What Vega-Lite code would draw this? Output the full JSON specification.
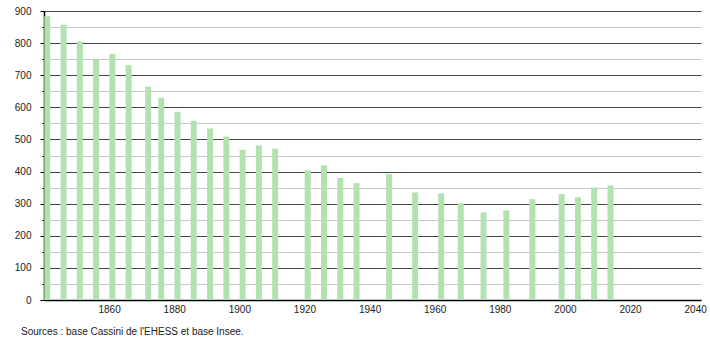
{
  "$schema": "https://vega.github.io/schema/vega-lite/v6.json",
  "width": 657,
  "height": 289,
  "autosize": "none",
  "padding": {"left": 44, "top": 11, "right": 9, "bottom": 40},
  "background": "white",
  "config": {"view": {"stroke": null}, "font": "Liberation Sans"},
  "title": {
    "text": "Sources : base Cassini de l'EHESS et base Insee.",
    "orient": "bottom",
    "anchor": "start",
    "frame": "group",
    "dx": -23,
    "offset": 13,
    "fontSize": 10,
    "fontWeight": "normal",
    "font": "Liberation Sans",
    "color": "#222"
  },
  "data": {
    "values": [
      {"annee": 1841, "population": 884},
      {"annee": 1846, "population": 857},
      {"annee": 1851, "population": 805},
      {"annee": 1856, "population": 750},
      {"annee": 1861, "population": 767},
      {"annee": 1866, "population": 731},
      {"annee": 1872, "population": 664},
      {"annee": 1876, "population": 630},
      {"annee": 1881, "population": 586},
      {"annee": 1886, "population": 558},
      {"annee": 1891, "population": 534},
      {"annee": 1896, "population": 509},
      {"annee": 1901, "population": 468},
      {"annee": 1906, "population": 481},
      {"annee": 1911, "population": 471},
      {"annee": 1921, "population": 404},
      {"annee": 1926, "population": 420},
      {"annee": 1931, "population": 380},
      {"annee": 1936, "population": 364},
      {"annee": 1946, "population": 392},
      {"annee": 1954, "population": 335},
      {"annee": 1962, "population": 332},
      {"annee": 1968, "population": 301},
      {"annee": 1975, "population": 273},
      {"annee": 1982, "population": 279},
      {"annee": 1990, "population": 314},
      {"annee": 1999, "population": 330},
      {"annee": 2004, "population": 320},
      {"annee": 2009, "population": 350},
      {"annee": 2014, "population": 357}
    ]
  },
  "mark": {"type": "bar", "width": 6, "color": "#b2e2b2", "opacity": 1},
  "encoding": {
    "x": {
      "field": "annee",
      "type": "quantitative",
      "scale": {"domain": [1840, 2041.8], "nice": false, "zero": false, "padding": 0},
      "axis": {
        "title": null,
        "values": [1860, 1880, 1900, 1920, 1940, 1960, 1980, 2000, 2020, 2040],
        "format": "d",
        "grid": false,
        "ticks": false,
        "labelPadding": 4,
        "labelFontSize": 10,
        "labelColor": "#222",
        "domainColor": "#000",
        "domainWidth": 1.5,
        "labelFont": "Liberation Sans"
      }
    },
    "y": {
      "field": "population",
      "type": "quantitative",
      "scale": {"domain": [0, 900], "nice": false, "padding": 0},
      "axis": {
        "title": null,
        "values": [0, 50, 100, 150, 200, 250, 300, 350, 400, 450, 500, 550, 600, 650, 700, 750, 800, 850, 900],
        "labelExpr": "datum.value % 100 === 0 ? datum.label : ''",
        "grid": true,
        "gridColor": {"condition": {"test": "datum.value % 100 === 0", "value": "#444"}, "value": "#c8c8c8"},
        "gridWidth": 1,
        "tickColor": "#000",
        "tickSize": {"condition": {"test": "datum.value % 100 === 0", "value": 4}, "value": 2},
        "labelPadding": 9,
        "labelFontSize": 10,
        "labelColor": "#222",
        "labelFont": "Liberation Sans",
        "domainColor": "#000",
        "domainWidth": 1.5
      }
    }
  }
}
